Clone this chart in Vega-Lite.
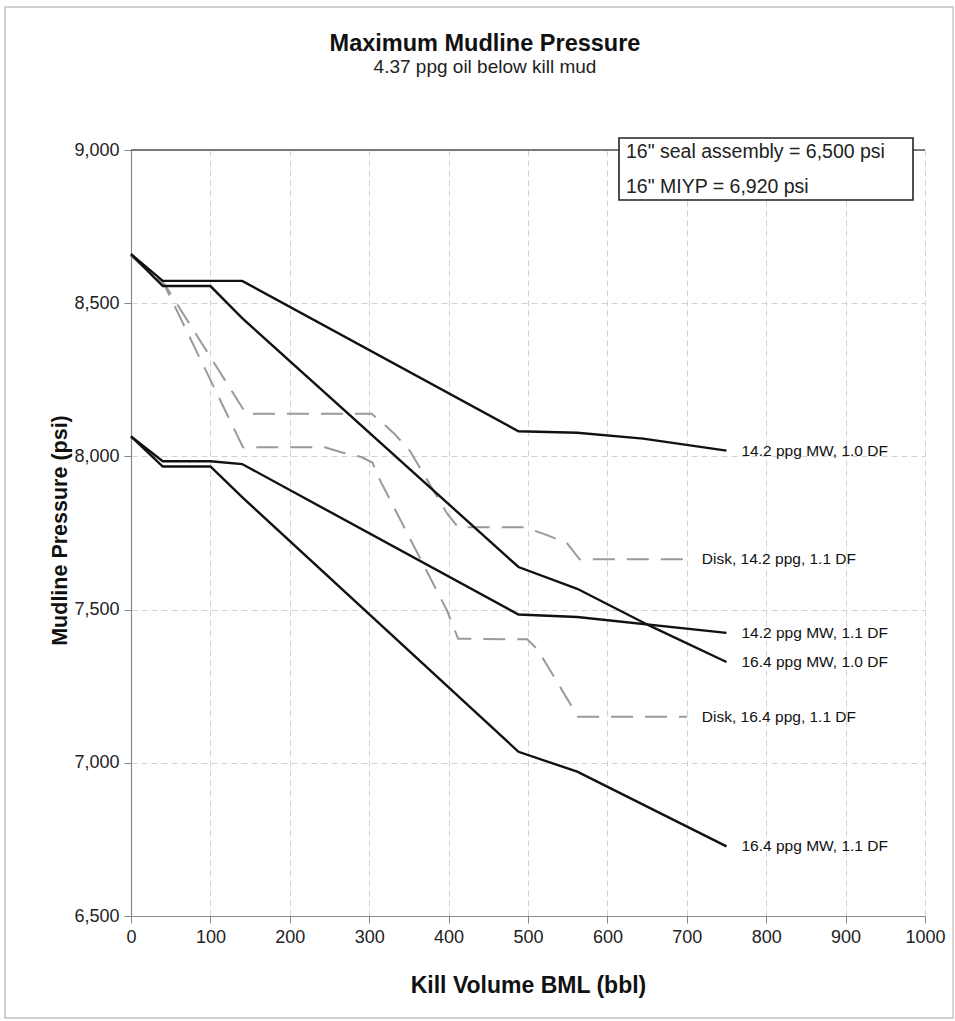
{
  "$schema": "https://vega.github.io/schema/vega-lite/v6.json",
  "width": 794,
  "height": 766,
  "autosize": "none",
  "padding": {"left": 131, "top": 150, "right": 30, "bottom": 105},
  "background": "white",
  "config": {
    "font": "Liberation Sans",
    "view": {"stroke": null},
    "axisY": {"labelExpr": "format(datum.value, ',')"},
    "axisX": {"labelExpr": "format(datum.value, 'd')"}
  },
  "title": {
    "text": "Maximum Mudline Pressure",
    "subtitle": "4.37 ppg oil below kill mud",
    "fontSize": 23.5,
    "fontWeight": "bold",
    "subtitleFontSize": 19,
    "anchor": "middle",
    "dx": -43,
    "dy": 71,
    "offset": 0,
    "subtitlePadding": 3,
    "color": "#111",
    "subtitleColor": "#222",
    "font": "Liberation Sans",
    "subtitleFont": "Liberation Sans"
  },
  "datasets": {
    "curves": [
      {"s": "14.2 ppg MW, 1.0 DF", "k": "MW", "x": 0, "y": 8660},
      {"s": "14.2 ppg MW, 1.0 DF", "k": "MW", "x": 40, "y": 8573},
      {"s": "14.2 ppg MW, 1.0 DF", "k": "MW", "x": 100, "y": 8573},
      {"s": "14.2 ppg MW, 1.0 DF", "k": "MW", "x": 140, "y": 8573},
      {"s": "14.2 ppg MW, 1.0 DF", "k": "MW", "x": 488, "y": 8082},
      {"s": "14.2 ppg MW, 1.0 DF", "k": "MW", "x": 562, "y": 8077},
      {"s": "14.2 ppg MW, 1.0 DF", "k": "MW", "x": 645, "y": 8058},
      {"s": "14.2 ppg MW, 1.0 DF", "k": "MW", "x": 750, "y": 8019},

      {"s": "16.4 ppg MW, 1.0 DF", "k": "MW", "x": 0, "y": 8660},
      {"s": "16.4 ppg MW, 1.0 DF", "k": "MW", "x": 40, "y": 8556},
      {"s": "16.4 ppg MW, 1.0 DF", "k": "MW", "x": 100, "y": 8556},
      {"s": "16.4 ppg MW, 1.0 DF", "k": "MW", "x": 140, "y": 8451},
      {"s": "16.4 ppg MW, 1.0 DF", "k": "MW", "x": 488, "y": 7639},
      {"s": "16.4 ppg MW, 1.0 DF", "k": "MW", "x": 562, "y": 7568},
      {"s": "16.4 ppg MW, 1.0 DF", "k": "MW", "x": 655, "y": 7445},
      {"s": "16.4 ppg MW, 1.0 DF", "k": "MW", "x": 750, "y": 7329},

      {"s": "14.2 ppg MW, 1.1 DF", "k": "MW", "x": 0, "y": 8065},
      {"s": "14.2 ppg MW, 1.1 DF", "k": "MW", "x": 40, "y": 7984},
      {"s": "14.2 ppg MW, 1.1 DF", "k": "MW", "x": 100, "y": 7984},
      {"s": "14.2 ppg MW, 1.1 DF", "k": "MW", "x": 140, "y": 7975},
      {"s": "14.2 ppg MW, 1.1 DF", "k": "MW", "x": 488, "y": 7484},
      {"s": "14.2 ppg MW, 1.1 DF", "k": "MW", "x": 562, "y": 7476},
      {"s": "14.2 ppg MW, 1.1 DF", "k": "MW", "x": 750, "y": 7424},

      {"s": "16.4 ppg MW, 1.1 DF", "k": "MW", "x": 0, "y": 8065},
      {"s": "16.4 ppg MW, 1.1 DF", "k": "MW", "x": 40, "y": 7967},
      {"s": "16.4 ppg MW, 1.1 DF", "k": "MW", "x": 100, "y": 7967},
      {"s": "16.4 ppg MW, 1.1 DF", "k": "MW", "x": 140, "y": 7867},
      {"s": "16.4 ppg MW, 1.1 DF", "k": "MW", "x": 488, "y": 7036},
      {"s": "16.4 ppg MW, 1.1 DF", "k": "MW", "x": 562, "y": 6971},
      {"s": "16.4 ppg MW, 1.1 DF", "k": "MW", "x": 750, "y": 6727},

      {"s": "Disk, 14.2 ppg, 1.1 DF", "k": "Disk", "x": 0, "y": 8655},
      {"s": "Disk, 14.2 ppg, 1.1 DF", "k": "Disk", "x": 42, "y": 8563},
      {"s": "Disk, 14.2 ppg, 1.1 DF", "k": "Disk", "x": 145, "y": 8139},
      {"s": "Disk, 14.2 ppg, 1.1 DF", "k": "Disk", "x": 303, "y": 8139},
      {"s": "Disk, 14.2 ppg, 1.1 DF", "k": "Disk", "x": 316, "y": 8111},
      {"s": "Disk, 14.2 ppg, 1.1 DF", "k": "Disk", "x": 332, "y": 8073},
      {"s": "Disk, 14.2 ppg, 1.1 DF", "k": "Disk", "x": 351, "y": 8019},
      {"s": "Disk, 14.2 ppg, 1.1 DF", "k": "Disk", "x": 398, "y": 7814},
      {"s": "Disk, 14.2 ppg, 1.1 DF", "k": "Disk", "x": 412, "y": 7769},
      {"s": "Disk, 14.2 ppg, 1.1 DF", "k": "Disk", "x": 496, "y": 7769},
      {"s": "Disk, 14.2 ppg, 1.1 DF", "k": "Disk", "x": 524, "y": 7743},
      {"s": "Disk, 14.2 ppg, 1.1 DF", "k": "Disk", "x": 549, "y": 7717},
      {"s": "Disk, 14.2 ppg, 1.1 DF", "k": "Disk", "x": 565, "y": 7664},
      {"s": "Disk, 14.2 ppg, 1.1 DF", "k": "Disk", "x": 700, "y": 7664},

      {"s": "Disk, 16.4 ppg, 1.1 DF", "k": "Disk", "x": 0, "y": 8655},
      {"s": "Disk, 16.4 ppg, 1.1 DF", "k": "Disk", "x": 42, "y": 8560},
      {"s": "Disk, 16.4 ppg, 1.1 DF", "k": "Disk", "x": 141, "y": 8030},
      {"s": "Disk, 16.4 ppg, 1.1 DF", "k": "Disk", "x": 244, "y": 8030},
      {"s": "Disk, 16.4 ppg, 1.1 DF", "k": "Disk", "x": 266, "y": 8013},
      {"s": "Disk, 16.4 ppg, 1.1 DF", "k": "Disk", "x": 290, "y": 7998},
      {"s": "Disk, 16.4 ppg, 1.1 DF", "k": "Disk", "x": 304, "y": 7980},
      {"s": "Disk, 16.4 ppg, 1.1 DF", "k": "Disk", "x": 314, "y": 7920},
      {"s": "Disk, 16.4 ppg, 1.1 DF", "k": "Disk", "x": 398, "y": 7497},
      {"s": "Disk, 16.4 ppg, 1.1 DF", "k": "Disk", "x": 412, "y": 7405},
      {"s": "Disk, 16.4 ppg, 1.1 DF", "k": "Disk", "x": 499, "y": 7403},
      {"s": "Disk, 16.4 ppg, 1.1 DF", "k": "Disk", "x": 512, "y": 7370},
      {"s": "Disk, 16.4 ppg, 1.1 DF", "k": "Disk", "x": 563, "y": 7150},
      {"s": "Disk, 16.4 ppg, 1.1 DF", "k": "Disk", "x": 700, "y": 7150}
    ]
  },
  "layer": [
    {
      "data": {"values": [{}]},
      "mark": {"type": "rect", "fill": null, "stroke": "#c4c4c4", "strokeWidth": 1.5},
      "encoding": {
        "x": {"datum": -158.7, "type": "quantitative", "title": "Kill Volume BML (bbl)"},
        "x2": {"datum": 1035.3},
        "y": {"datum": 9466.7, "type": "quantitative", "title": "Mudline Pressure (psi)"},
        "y2": {"datum": 6167}
      }
    },
    {
      "data": {"values": [{}]},
      "mark": {"type": "rule", "color": "#555", "strokeWidth": 1.5},
      "encoding": {
        "y": {"datum": 9000, "type": "quantitative", "title": "Mudline Pressure (psi)"}
      }
    },
    {
      "data": {"values": [{}]},
      "mark": {"type": "rect", "fill": "white", "stroke": "#222", "strokeWidth": 1.6},
      "encoding": {
        "x": {"datum": 614.6, "type": "quantitative", "title": "Kill Volume BML (bbl)"},
        "x2": {"datum": 984.9},
        "y": {"datum": 9039, "type": "quantitative", "title": "Mudline Pressure (psi)"},
        "y2": {"datum": 8837}
      }
    },
    {
      "data": {"values": [{}]},
      "mark": {"type": "text", "align": "left", "baseline": "middle", "fontSize": 19.5, "color": "#222"},
      "encoding": {
        "x": {"datum": 623.4, "type": "quantitative", "title": "Kill Volume BML (bbl)"},
        "y": {"datum": 8993.5, "type": "quantitative", "title": "Mudline Pressure (psi)"},
        "text": {"value": "16\" seal assembly = 6,500 psi"}
      }
    },
    {
      "data": {"values": [{}]},
      "mark": {"type": "text", "align": "left", "baseline": "middle", "fontSize": 19.5, "color": "#222"},
      "encoding": {
        "x": {"datum": 623.4, "type": "quantitative", "title": "Kill Volume BML (bbl)"},
        "y": {"datum": 8879, "type": "quantitative", "title": "Mudline Pressure (psi)"},
        "text": {"value": "16\" MIYP = 6,920 psi"}
      }
    },
    {
      "data": {"name": "curves"},
      "transform": [{"filter": "datum.k == 'Disk'"}],
      "mark": {"type": "line", "color": "#9a9a9a", "strokeWidth": 2, "strokeDash": [22, 12]},
      "encoding": {
        "x": {"field": "x", "type": "quantitative", "title": "Kill Volume BML (bbl)"},
        "y": {"field": "y", "type": "quantitative", "title": "Mudline Pressure (psi)"},
        "detail": {"field": "s"}
      }
    },
    {
      "data": {"name": "curves"},
      "transform": [{"filter": "datum.k == 'MW'"}],
      "mark": {"type": "line", "color": "#111", "strokeWidth": 2.4},
      "encoding": {
        "x": {
          "field": "x", "type": "quantitative", "title": "Kill Volume BML (bbl)",
          "scale": {"domain": [0, 1000], "nice": false, "zero": false},
          "axis": {
            "values": [0, 100, 200, 300, 400, 500, 600, 700, 800, 900, 1000],
            "grid": true, "gridColor": "#d2d2d2", "gridDash": [6, 4], "gridWidth": 1,
            "domainColor": "#888", "domainWidth": 1.2, "tickColor": "#888", "tickSize": 7,
            "labelFontSize": 18, "labelPadding": 5, "labelColor": "#222", "labelFlush": false,
            "titleFontSize": 23, "titleFontWeight": "bold", "titleColor": "#111",
            "titleY": 69, "titleBaseline": "middle"
          }
        },
        "y": {
          "field": "y", "type": "quantitative", "title": "Mudline Pressure (psi)",
          "scale": {"domain": [6500, 9000], "nice": false, "zero": false},
          "axis": {
            "values": [6500, 7000, 7500, 8000, 8500, 9000],
            "grid": true, "gridColor": "#d2d2d2", "gridDash": [6, 4], "gridWidth": 1,
            "domainColor": "#888", "domainWidth": 1.2, "tickColor": "#888", "tickSize": 7,
            "labelFontSize": 18, "labelPadding": 5, "labelColor": "#222",
            "titleFontSize": 21.5, "titleFontWeight": "bold", "titleColor": "#111",
            "titleX": -60, "titleY": 380, "titleBaseline": "bottom", "titleAngle": 270
          }
        },
        "detail": {"field": "s"}
      }
    },
    {
      "data": {"name": "curves"},
      "transform": [
        {"joinaggregate": [{"op": "max", "field": "x", "as": "xmax"}], "groupby": ["s"]},
        {"filter": "datum.x == datum.xmax"}
      ],
      "mark": {"type": "text", "align": "left", "baseline": "middle", "dx": 15, "fontSize": 15.5, "color": "#111"},
      "encoding": {
        "x": {"field": "x", "type": "quantitative", "title": "Kill Volume BML (bbl)"},
        "y": {"field": "y", "type": "quantitative", "title": "Mudline Pressure (psi)"},
        "text": {"field": "s"}
      }
    }
  ]
}
